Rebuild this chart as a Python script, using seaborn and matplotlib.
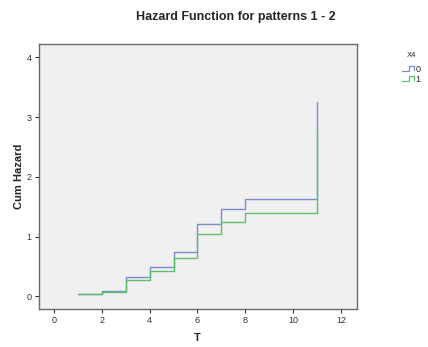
import matplotlib
matplotlib.use("Agg")
import matplotlib.pyplot as plt
from matplotlib.lines import Line2D
from matplotlib.legend_handler import HandlerBase
import seaborn as sns
import pandas as pd

# Cumulative hazard by event time for each X4 group
times = [1, 2, 3, 4, 5, 6, 7, 8, 11]
cum_hazard_x4_0 = [0.033, 0.084, 0.318, 0.49, 0.74, 1.215, 1.46, 1.63, 3.26]
cum_hazard_x4_1 = [0.033, 0.067, 0.27, 0.42, 0.64, 1.04, 1.25, 1.39, 2.79]
groups = ["0", "1"]
x_ticks = [0, 2, 4, 6, 8, 10, 12]
y_ticks = [0, 1, 2, 3, 4]

colors = {"0": "#7e8bcb", "1": "#5cbf6c"}

df = pd.DataFrame({
    "T": times * 2,
    "Cum Hazard": cum_hazard_x4_0 + cum_hazard_x4_1,
    "X4": [groups[0]] * len(times) + [groups[1]] * len(times),
})

sns.set_style("white")
plt.rcParams["font.family"] = ["Liberation Sans", "DejaVu Sans"]

fig = plt.figure(figsize=(4.28, 3.47), dpi=100)
ax = fig.add_axes([0.0904, 0.1095, 0.743, 0.7628])
ax.set_facecolor("#f0f0f0")

sns.lineplot(data=df, x="T", y="Cum Hazard", hue="X4", palette=colors,
             drawstyle="steps-post", linewidth=1.0, ax=ax, legend=False,
             estimator=None, sort=True)

ax.set_xlim(-0.64, 12.66)
ax.set_ylim(-0.21, 4.22)
ax.set_xticks(x_ticks)
ax.set_yticks(y_ticks)
ax.tick_params(axis="both", direction="out", length=3, width=0.8,
               labelsize=6.5, colors="#333333", pad=2, left=True, bottom=True)
for sp in ax.spines.values():
    sp.set_color("#6a6a6a")
    sp.set_linewidth(1.0)

ax.set_xlabel("T", fontsize=8, fontweight="bold")
ax.set_ylabel("Cum Hazard", fontsize=8, fontweight="bold")
ax.xaxis.set_label_coords(0.5, -0.11)
ax.yaxis.set_label_coords(-0.062, 0.5)
ax.xaxis.label.set_va("center")
ax.yaxis.label.set_va("center")

fig.text(0.552, 0.951, "Hazard Function for patterns 1 - 2",
         ha="center", va="center", fontsize=9, fontweight="bold")


class StepHandler(HandlerBase):
    def create_artists(self, legend, orig_handle, xdescent, ydescent,
                       width, height, fontsize, trans):
        w, h = width, height
        xs = [0, 0.55 * w, 0.55 * w, w, w]
        ys = [0.15 * h, 0.15 * h, 0.85 * h, 0.85 * h, 0.3 * h]
        line = Line2D(xs, ys, color=orig_handle.get_color(), lw=0.9,
                      transform=trans)
        return [line]


handles = [Line2D([], [], color=colors[g]) for g in groups]
leg = fig.legend(handles, groups, title="X4", loc="upper left",
                 bbox_to_anchor=(0.925, 0.868), frameon=False,
                 fontsize=6.5, title_fontsize=5.5, handlelength=1.3,
                 handleheight=0.8, handletextpad=0.15, labelspacing=0.15,
                 borderpad=0.2, handler_map={Line2D: StepHandler()})
leg._legend_box.sep = 4

fig.savefig("out.png", dpi=100)
